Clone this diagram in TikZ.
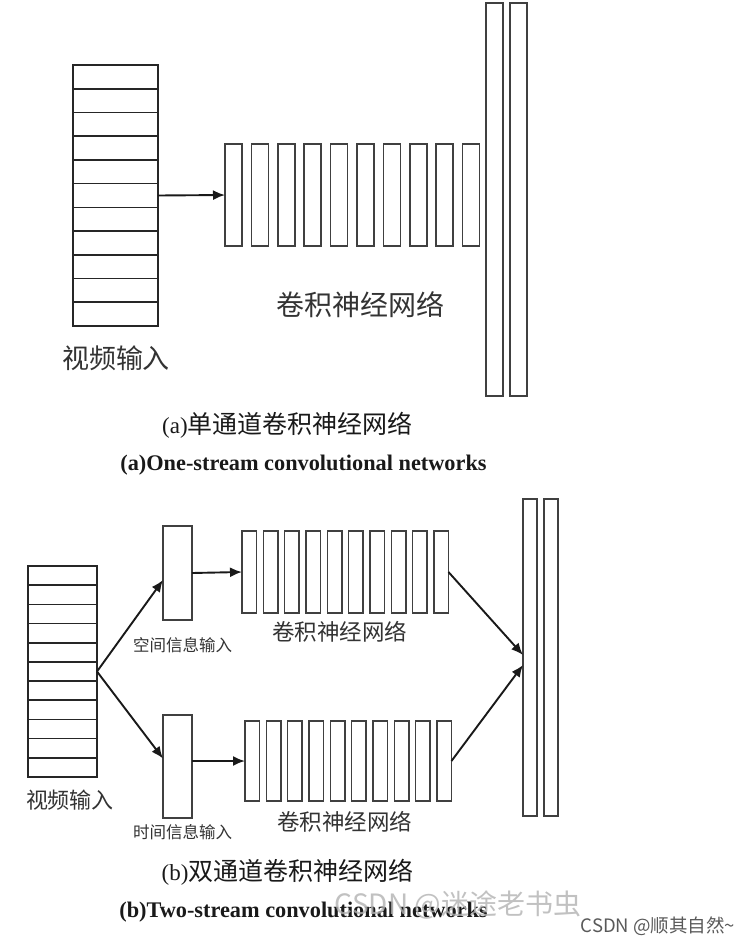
\documentclass[tikz,border=0pt]{standalone}
\usepackage{fontspec}
\setmainfont{Liberation Serif}
\newfontfamily\cjk{Noto Sans CJK SC}
\usetikzlibrary{arrows.meta,calc}
\newcommand\fsz[1]{\fontsize{#1}{#1}\selectfont}
\tikzset{
  box/.style={draw=black!75, line width=1.5pt, inner sep=0pt, outer sep=0pt, fill=white},
  stackbox/.style={draw=black!85, line width=1.7pt, inner sep=0pt, outer sep=0pt},
  topbar/.style={box, minimum width=17pt, minimum height=102pt},
  ubar/.style={box, minimum width=14.5pt, minimum height=82pt},
  lbar/.style={box, minimum width=14.5pt, minimum height=80pt},
  tallA/.style={box, minimum width=17pt, minimum height=393pt},
  tallB/.style={box, minimum width=14pt, minimum height=317pt},
  arr/.style={-{Latex[length=12pt,width=10pt]}, line width=1.9pt, black!90},
  lab/.style={font=\cjk, text=black!80, inner sep=0pt},
  captext/.style={text=black!90, inner sep=0pt},
  wm/.style={font=\cjk, inner sep=0pt},
}
\begin{document}
\begin{tikzpicture}[x=1pt,y=-1pt]
\useasboundingbox (0,0) rectangle (751,946);
% ---------- (a) one-stream ----------
\node[stackbox, minimum width=85pt, minimum height=261pt] (stackA) at (115.5,195.5) {};
\foreach \k in {1,...,10}{
  \draw[black!85, line width=1.7pt] ($(stackA.north west)+(0,\k*23.727)$) -- ($(stackA.north east)+(0,\k*23.727)$);
}
\node[lab, font=\cjk\fsz{27}] (vinA) at (116,358) {视频输入};
\foreach \i in {1,...,10}{
  \node[topbar] (ta\i) at ({233.5+26.4*(\i-1)},195) {};
}
\node[tallA] (fa1) at (494.5,199.5) {};
\node[tallA] (fa2) at (518.5,199.5) {};
\node[lab, font=\cjk\fsz{28}] (cnnA) at (360,305) {卷积神经网络};
\draw[arr] (stackA.east) -- (ta1.west);
\node[captext] (capA1) at (287.5,425) {\fsz{23}(a)\cjk\fsz{25}单通道卷积神经网络};
\node[captext, font=\bfseries\fsz{22.3}] (capA2) at (303.5,465) {(a)One-stream convolutional networks};
% ---------- (b) two-stream ----------
\node[stackbox, minimum width=69pt, minimum height=211pt] (stackB) at (62.5,671.5) {};
\foreach \k in {1,...,10}{
  \draw[black!85, line width=1.7pt] ($(stackB.north west)+(0,\k*19.18)$) -- ($(stackB.north east)+(0,\k*19.18)$);
}
\node[lab, font=\cjk\fsz{22}] (vinB) at (70,800) {视频输入};
\node[box, minimum width=29pt, minimum height=94pt] (sp) at (177.5,573) {};
\node[box, minimum width=29pt, minimum height=103pt] (tp) at (177.5,766.5) {};
\node[lab, font=\cjk\fsz{16.5}] (spl) at (182.5,645) {空间信息输入};
\node[lab, font=\cjk\fsz{16.5}] (tpl) at (182.5,832) {时间信息输入};
\foreach \i in {1,...,10}{
  \node[ubar] (ub\i) at ({249.25+21.33*(\i-1)},572) {};
  \node[lbar] (lb\i) at ({252.25+21.33*(\i-1)},761) {};
}
\node[lab, font=\cjk\fsz{22.5}] (cnnU) at (339.5,632) {卷积神经网络};
\node[lab, font=\cjk\fsz{22.5}] (cnnL) at (344.5,822) {卷积神经网络};
\node[tallB] (fb1) at (530,657.5) {};
\node[tallB] (fb2) at (551,657.5) {};
\draw[arr] (stackB.east) -- ($(sp.west)+(0,7)$);
\draw[arr] (stackB.east) -- ($(tp.west)+(0,-8)$);
\draw[arr] (sp.east) -- (ub1.west);
\draw[arr] (tp.east |- lb1.west) -- (lb1.west);
\draw[arr] (ub10.east) -- ($(fb1.west)+(0,-2.5)$);
\draw[arr] (lb10.east) -- ($(fb1.west)+(0,7.5)$);
\node[captext] (capB1) at (287.5,872) {\fsz{23}(b)\cjk\fsz{25}双通道卷积神经网络};
\node[captext, font=\bfseries\fsz{22.3}] (capB2) at (303.5,912) {(b)Two-stream convolutional networks};
% ---------- watermarks ----------
\node[wm, text=black!30, font=\cjk\fsz{28}, opacity=0.8] (wm1) at (458,905) {CSDN @迷途老书虫};
\node[wm, text=black!65, font=\cjk\fsz{18.5}] (wm2) at (658,926) {CSDN @顺其自然\textasciitilde};
\end{tikzpicture}
\end{document}
